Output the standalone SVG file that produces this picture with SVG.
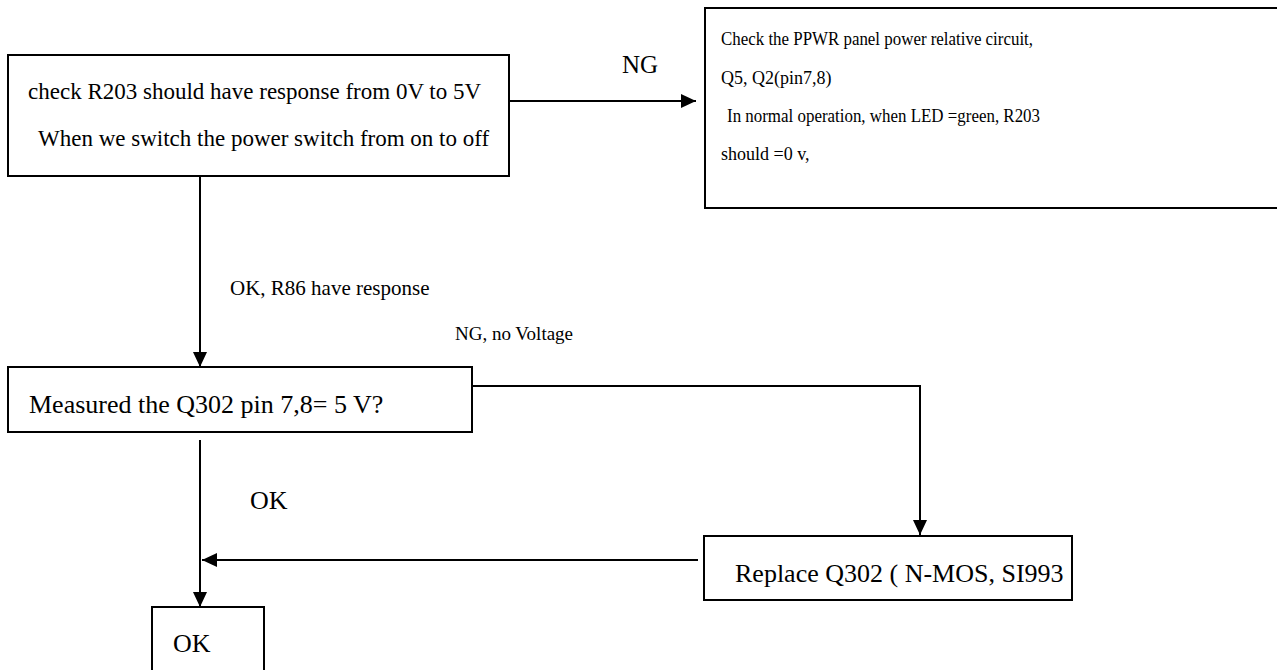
<svg xmlns="http://www.w3.org/2000/svg" width="1277" height="670" viewBox="0 0 1277 670">
<defs>
<marker id="ah" markerWidth="16" markerHeight="14" refX="15" refY="7" orient="auto" markerUnits="userSpaceOnUse">
<path d="M0,0 L15,7 L0,14 Z" fill="#000"/>
</marker>
<style>
.box{fill:#fff;stroke:#000;stroke-width:2}
.t{font-family:"Liberation Serif","Times New Roman",serif;fill:#000}
.c{fill:none;stroke:#000;stroke-width:2}
</style>
</defs>
<rect x="0" y="0" width="1277" height="670" fill="#fff"/>
<g id="connectors">
<line class="c" x1="509" y1="101" x2="696" y2="101" marker-end="url(#ah)"/>
<line class="c" x1="200" y1="176" x2="200" y2="367" marker-end="url(#ah)"/>
<polyline class="c" points="464,386 920,386 920,535" marker-end="url(#ah)"/>
<line class="c" x1="698" y1="560" x2="202" y2="560" marker-end="url(#ah)"/>
<line class="c" x1="200" y1="440" x2="200" y2="607" marker-end="url(#ah)"/>
<text class="t" x="622" y="73" font-size="25">NG</text>
<text class="t" x="230" y="295" font-size="21">OK, R86 have response</text>
<text class="t" x="455" y="340" font-size="19">NG, no Voltage</text>
<text class="t" x="250" y="509" font-size="26">OK</text>
</g>
<g id="n1">
<rect class="box" x="8" y="55" width="501" height="121"/>
<text class="t" x="28" y="99" font-size="23">check R203 should have response from 0V to 5V</text>
<text class="t" x="38" y="146" font-size="23">When we switch the power switch from on to off</text>
</g>
<g id="n2">
<rect class="box" x="705" y="8" width="580" height="200"/>
<text class="t" x="721" y="45" font-size="18" textLength="312" lengthAdjust="spacingAndGlyphs">Check the PPWR panel power relative circuit,</text>
<text class="t" x="721" y="84" font-size="18">Q5, Q2(pin7,8)</text>
<text class="t" x="727" y="122" font-size="18" textLength="313" lengthAdjust="spacingAndGlyphs">In normal operation, when LED =green, R203</text>
<text class="t" x="721" y="160" font-size="18">should =0 v,</text>
</g>
<g id="n3">
<rect class="box" x="8" y="367" width="464" height="65"/>
<text class="t" x="29" y="413" font-size="26">Measured the Q302 pin 7,8= 5 V?</text>
</g>
<g id="n4">
<rect class="box" x="704" y="536" width="368" height="64"/>
<text class="t" x="735" y="582" font-size="26">Replace Q302 ( N-MOS, SI993</text>
</g>
<g id="n5">
<rect class="box" x="152" y="607" width="112" height="80"/>
<text class="t" x="173" y="652" font-size="26">OK</text>
</g>
</svg>
